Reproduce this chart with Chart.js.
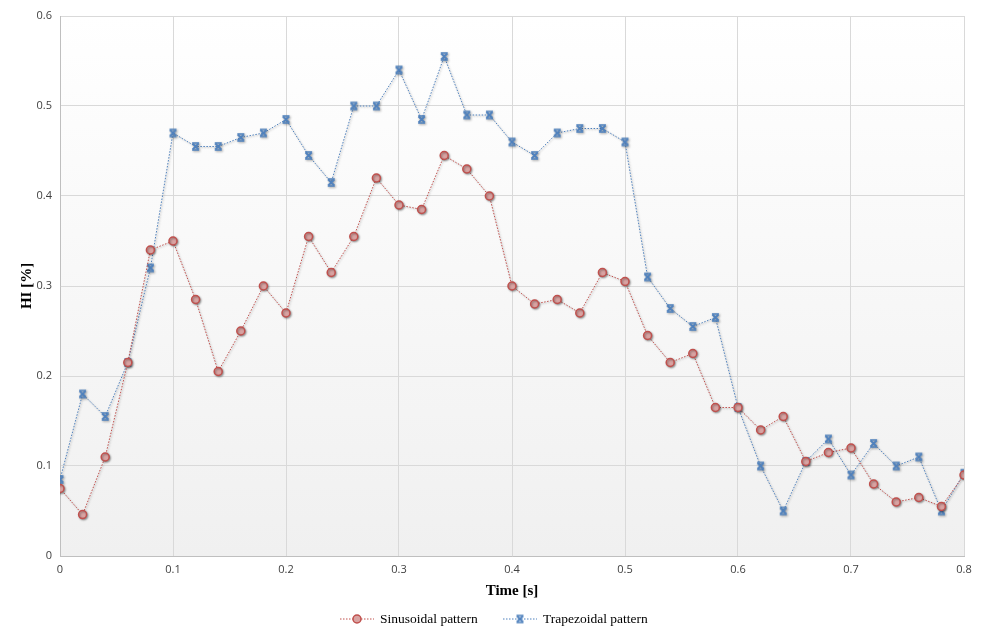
<!DOCTYPE html>
<html>
<head>
<meta charset="utf-8">
<script src="https://cdn.jsdelivr.net/npm/chart.js@4/dist/chart.umd.min.js"></script>
<style>
  html, body { margin: 0; padding: 0; background: #ffffff; }
  #wrap { position: relative; width: 981px; height: 627px; }
</style>
</head>
<body>
<div id="wrap"><canvas id="c" width="981" height="627"></canvas></div>
<script>
// Sample times (s)
const times = [0, 0.02, 0.04, 0.06, 0.08, 0.10, 0.12, 0.14, 0.16, 0.18, 0.20,
  0.22, 0.24, 0.26, 0.28, 0.30, 0.32, 0.34, 0.36, 0.38, 0.40,
  0.42, 0.44, 0.46, 0.48, 0.50, 0.52, 0.54, 0.56, 0.58, 0.60,
  0.62, 0.64, 0.66, 0.68, 0.70, 0.72, 0.74, 0.76, 0.78, 0.80];

// HI [%] for the sinusoidal pattern
const sinusoidal = [0.075, 0.046, 0.11, 0.215, 0.34, 0.35, 0.285, 0.205, 0.25, 0.30, 0.27,
  0.355, 0.315, 0.355, 0.42, 0.39, 0.385, 0.445, 0.43, 0.40, 0.30,
  0.28, 0.285, 0.27, 0.315, 0.305, 0.245, 0.215, 0.225, 0.165, 0.165,
  0.14, 0.155, 0.105, 0.115, 0.12, 0.08, 0.06, 0.065, 0.055, 0.09];

// HI [%] for the trapezoidal pattern
const trapezoidal = [0.085, 0.18, 0.155, 0.215, 0.32, 0.47, 0.455, 0.455, 0.465, 0.47, 0.485,
  0.445, 0.415, 0.50, 0.50, 0.54, 0.485, 0.555, 0.49, 0.49, 0.46,
  0.445, 0.47, 0.475, 0.475, 0.46, 0.31, 0.275, 0.255, 0.265, 0.165,
  0.10, 0.05, 0.105, 0.13, 0.09, 0.125, 0.10, 0.11, 0.05, 0.092];

const seriesNames = ['Sinusoidal pattern', 'Trapezoidal pattern'];
const xTicks = [0, 0.1, 0.2, 0.3, 0.4, 0.5, 0.6, 0.7, 0.8];
const yTicks = [0, 0.1, 0.2, 0.3, 0.4, 0.5, 0.6];

const RED = '#c0504d';
const RED_FILL = '#d9a3a2';
const BLUE = '#4f81bd';

const toPoints = vals => vals.map((v, i) => ({ x: times[i], y: v }));

// Capped "x" marker used by the trapezoidal series
function makeCrossMarker() {
  const c = document.createElement('canvas');
  c.width = 11; c.height = 11;
  const g = c.getContext('2d');
  g.strokeStyle = BLUE;
  g.lineCap = 'butt';
  g.lineWidth = 2;
  g.beginPath();
  g.moveTo(2.5, 2.5); g.lineTo(8.5, 8.5);
  g.moveTo(8.5, 2.5); g.lineTo(2.5, 8.5);
  g.stroke();
  g.lineWidth = 1.5;
  g.beginPath();
  g.moveTo(2, 2); g.lineTo(9, 2);
  g.moveTo(2, 9); g.lineTo(9, 9);
  g.stroke();
  return c;
}
const crossMarker = makeCrossMarker();

// Soft vertical gradient behind the plot area
const plotBackground = {
  id: 'plotBackground',
  beforeDraw(chart) {
    const { ctx, chartArea: a } = chart;
    const g = ctx.createLinearGradient(0, a.top, 0, a.bottom);
    g.addColorStop(0, '#ffffff');
    g.addColorStop(1, '#f0f0f0');
    ctx.save();
    ctx.fillStyle = g;
    ctx.fillRect(a.left, a.top, a.right - a.left, a.bottom - a.top);
    ctx.restore();
  }
};

// Drop shadow under markers
const markerShadow = {
  id: 'markerShadow',
  beforeDatasetDraw(chart) {
    const ctx = chart.ctx;
    ctx.save();
    ctx.shadowColor = 'rgba(0,0,0,0.35)';
    ctx.shadowBlur = 2;
    ctx.shadowOffsetX = 1;
    ctx.shadowOffsetY = 1;
  },
  afterDatasetDraw(chart) {
    chart.ctx.restore();
  }
};

// Legend with a dotted line sample and marker for each series
const lineLegend = {
  id: 'lineLegend',
  afterDraw(chart) {
    const ctx = chart.ctx;
    const y = 619;
    const items = [
      { x: 340, color: RED, text: seriesNames[0] },
      { x: 503, color: BLUE, text: seriesNames[1] }
    ];
    ctx.save();
    ctx.font = '13.5px "Liberation Serif"';
    ctx.textBaseline = 'middle';
    items.forEach((it, i) => {
      ctx.strokeStyle = it.color;
      ctx.lineWidth = 1;
      ctx.setLineDash([1.5, 1.5]);
      ctx.beginPath();
      ctx.moveTo(it.x, y);
      ctx.lineTo(it.x + 34, y);
      ctx.stroke();
      ctx.setLineDash([]);
      if (i === 0) {
        ctx.lineWidth = 1.5;
        ctx.fillStyle = RED_FILL;
        Chart.helpers.drawPoint(ctx, { pointStyle: 'circle', radius: 4, borderWidth: 1.5 }, it.x + 17, y);
      } else {
        ctx.drawImage(crossMarker, it.x + 17 - 5.5, y - 5.5);
      }
      ctx.fillStyle = '#000000';
      ctx.fillText(it.text, it.x + 40, y);
    });
    ctx.restore();
  }
};

new Chart(document.getElementById('c'), {
  type: 'line',
  data: {
    datasets: [
      {
        label: seriesNames[0],
        data: toPoints(sinusoidal),
        borderColor: RED,
        borderWidth: 1,
        borderDash: [1.5, 1.5],
        pointStyle: 'circle',
        pointRadius: 4,
        pointBorderWidth: 1.5,
        pointBorderColor: RED,
        pointBackgroundColor: RED_FILL,
        tension: 0
      },
      {
        label: seriesNames[1],
        data: toPoints(trapezoidal),
        borderColor: BLUE,
        borderWidth: 1,
        borderDash: [1.5, 1.5],
        pointStyle: crossMarker,
        pointRadius: 5,
        tension: 0
      }
    ]
  },
  options: {
    responsive: false,
    animation: false,
    layout: { padding: { left: 18, top: 16, right: 17, bottom: 27 } },
    plugins: {
      legend: { display: false },
      tooltip: { enabled: false }
    },
    scales: {
      x: {
        type: 'linear',
        min: 0,
        max: 0.8,
        afterBuildTicks: s => { s.ticks = xTicks.map(v => ({ value: v })); },
        afterFit: s => { s.height = 44; },
        grid: { color: '#d9d9d9', drawTicks: false },
        border: { color: '#bfbfbf' },
        ticks: {
          padding: 7,
          color: '#404040',
          font: { family: '"Open Sans"', size: 11 },
          callback: v => String(Math.round(v * 10) / 10)
        },
        title: {
          display: true,
          text: 'Time [s]',
          color: '#000000',
          font: { family: '"Liberation Serif"', size: 15, weight: 'bold' },
          padding: { top: 0, bottom: 0 }
        }
      },
      y: {
        min: 0,
        max: 0.6,
        afterBuildTicks: s => { s.ticks = yTicks.map(v => ({ value: v })); },
        afterFit: s => { s.width = 42; },
        grid: { color: '#d9d9d9', drawTicks: false },
        border: { color: '#bfbfbf' },
        ticks: {
          padding: 8,
          color: '#404040',
          font: { family: '"Open Sans"', size: 11 },
          callback: v => String(Math.round(v * 10) / 10)
        },
        title: {
          display: true,
          text: 'HI [%]',
          color: '#000000',
          font: { family: '"Liberation Serif"', size: 15, weight: 'bold' },
          padding: { top: 0, bottom: 0 }
        }
      }
    }
  },
  plugins: [plotBackground, markerShadow, lineLegend]
});
</script>
</body>
</html>
